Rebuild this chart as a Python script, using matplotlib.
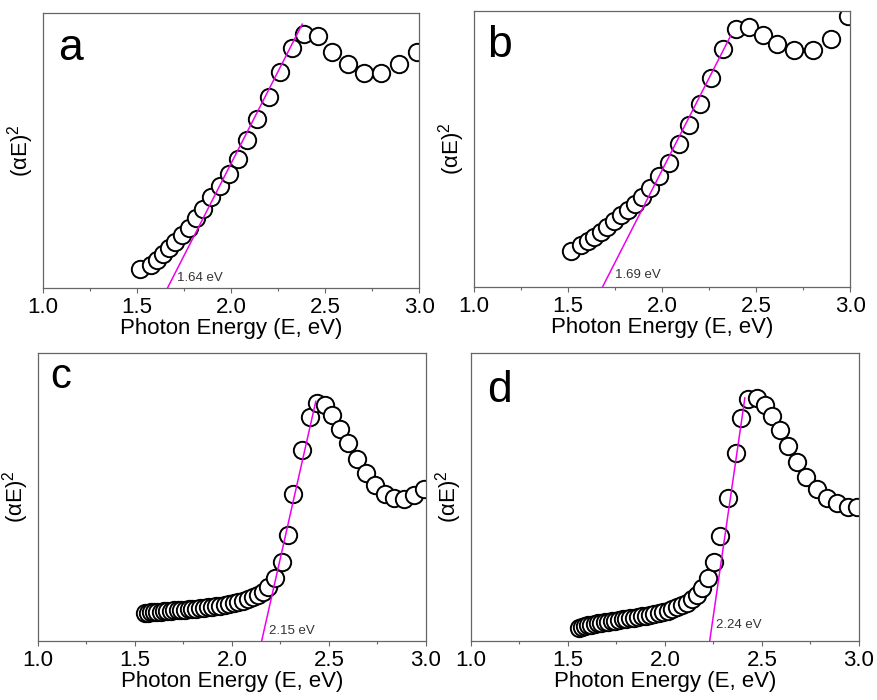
import numpy as np
from matplotlib import pyplot as plt
from matplotlib.ticker import MultipleLocator

plt.rcParams['font.family'] = ['Liberation Sans', 'DejaVu Sans']
plt.rcParams['mathtext.fontset'] = 'custom'
plt.rcParams['mathtext.rm'] = 'Liberation Sans'
plt.rcParams['mathtext.default'] = 'regular'

# (aE)^2 data, arbitrary units (0-1)
a_energy = [1.518, 1.576, 1.606, 1.638, 1.670, 1.704, 1.738, 1.777, 1.816, 1.851,
            1.892, 1.940, 1.989, 2.035, 2.087, 2.140, 2.202, 2.262, 2.324, 2.388,
            2.463, 2.537, 2.622, 2.706, 2.796, 2.894, 2.986]
a_signal = [0.069, 0.085, 0.103, 0.125, 0.145, 0.168, 0.191, 0.218, 0.253, 0.288,
            0.329, 0.371, 0.415, 0.470, 0.537, 0.613, 0.695, 0.786, 0.873, 0.925,
            0.915, 0.856, 0.813, 0.782, 0.782, 0.814, 0.859]

b_energy = [1.514, 1.571, 1.606, 1.638, 1.674, 1.709, 1.745, 1.780, 1.819, 1.856,
            1.895, 1.936, 1.984, 2.034, 2.090, 2.144, 2.202, 2.262, 2.324, 2.392,
            2.463, 2.534, 2.613, 2.702, 2.800, 2.897, 2.986]
b_signal = [0.130, 0.151, 0.167, 0.181, 0.198, 0.217, 0.238, 0.260, 0.278, 0.302,
            0.326, 0.359, 0.401, 0.450, 0.517, 0.587, 0.662, 0.757, 0.862, 0.935,
            0.942, 0.914, 0.882, 0.860, 0.860, 0.900, 0.981]

c_energy = [1.552, 1.567, 1.583, 1.599, 1.615, 1.632, 1.649, 1.666, 1.684, 1.702,
            1.720, 1.738, 1.757, 1.776, 1.795, 1.815, 1.835, 1.855, 1.876, 1.897,
            1.918, 1.940, 1.962, 1.985, 2.008, 2.033, 2.058, 2.084, 2.110, 2.136,
            2.162, 2.187, 2.222, 2.256, 2.290, 2.316, 2.359, 2.402, 2.436, 2.479,
            2.514, 2.557, 2.600, 2.643, 2.689, 2.737, 2.789, 2.837, 2.888, 2.940,
            2.990]
c_signal = [0.097, 0.098, 0.099, 0.100, 0.101, 0.102, 0.103, 0.104, 0.105, 0.106,
            0.107, 0.108, 0.109, 0.110, 0.111, 0.112, 0.114, 0.115, 0.117, 0.119,
            0.121, 0.123, 0.126, 0.129, 0.132, 0.135, 0.139, 0.145, 0.152, 0.160,
            0.171, 0.189, 0.219, 0.275, 0.368, 0.510, 0.663, 0.779, 0.825, 0.819,
            0.785, 0.735, 0.686, 0.632, 0.582, 0.542, 0.510, 0.495, 0.492, 0.507,
            0.528]

d_energy = [1.555, 1.571, 1.587, 1.603, 1.620, 1.637, 1.654, 1.671, 1.689, 1.707,
            1.725, 1.744, 1.763, 1.782, 1.801, 1.821, 1.841, 1.861, 1.882, 1.903,
            1.924, 1.946, 1.968, 1.991, 2.014, 2.037, 2.060, 2.086, 2.112, 2.138,
            2.163, 2.189, 2.223, 2.254, 2.284, 2.323, 2.364, 2.390, 2.430, 2.476,
            2.515, 2.550, 2.593, 2.632, 2.679, 2.727, 2.782, 2.833, 2.885, 2.942,
            2.991]
d_signal = [0.045, 0.050, 0.053, 0.055, 0.057, 0.059, 0.061, 0.063, 0.065, 0.067,
            0.069, 0.071, 0.073, 0.075, 0.077, 0.079, 0.081, 0.083, 0.086, 0.088,
            0.091, 0.094, 0.097, 0.101, 0.105, 0.110, 0.117, 0.125, 0.133, 0.145,
            0.160, 0.183, 0.218, 0.275, 0.365, 0.496, 0.652, 0.776, 0.840, 0.844,
            0.820, 0.782, 0.733, 0.678, 0.620, 0.571, 0.528, 0.496, 0.479, 0.467,
            0.467]

# linear fits (Tauc extrapolation)
fit_x = {'a': [1.662, 2.378], 'b': [1.683, 2.365], 'c': [2.153, 2.432], 'd': [2.229, 2.412]}
fit_y = {'a': [0.0, 0.959], 'b': [0.0, 0.912], 'c': [0.0, 0.832], 'd': [-0.008, 0.844]}
gap_text = {'a': '1.64 eV', 'b': '1.69 eV', 'c': '2.15 eV', 'd': '2.24 eV'}
gap_pos = {'a': (1.713, 0.038), 'b': (1.750, 0.045), 'c': (2.190, 0.035), 'd': (2.263, 0.056)}


def draw_panel(ax, name, energy, signal, letter_pos, letter_size=32):
    ax.plot(fit_x[name], fit_y[name], color='#ee00ee', lw=1.1, zorder=3)
    ax.plot(energy, signal, 'o', ms=12.5, mfc='white', mec='black', mew=1.4, zorder=2)
    ax.text(gap_pos[name][0], gap_pos[name][1], gap_text[name], fontsize=9.5,
            color='#333333', ha='left', va='center')
    ax.text(letter_pos[0], letter_pos[1], name, transform=ax.transAxes,
            fontsize=letter_size, ha='left', va='baseline')
    ax.set_xlim(1.0, 3.0)
    ax.set_ylim(0, 1)
    ax.xaxis.set_major_locator(MultipleLocator(0.5))
    ax.xaxis.set_minor_locator(MultipleLocator(0.25))
    ax.set_yticks([])
    ax.tick_params(axis='x', which='major', direction='out', length=3.6, width=0.8,
                   color='#666666', labelsize=16, pad=3)
    ax.tick_params(axis='x', which='minor', direction='out', length=2.2, width=0.8,
                   color='#666666')
    for sp in ax.spines.values():
        sp.set_color('#666666')
        sp.set_linewidth(0.9)
    ax.set_xlabel('Photon Energy (E, eV)', fontsize=16, labelpad=0)
    ax.set_ylabel(r'($\alpha$E)$^2$', fontsize=16)
    ax.yaxis.set_label_coords(-0.018, 0.5)


fig = plt.figure(figsize=(8.77, 7.0), dpi=100)
ax_a = fig.add_axes([0.049, 0.5886, 0.429, 0.393])
ax_b = fig.add_axes([0.5405, 0.590, 0.429, 0.394])
ax_c = fig.add_axes([0.0433, 0.0843, 0.4424, 0.4114])
ax_d = fig.add_axes([0.537, 0.0843, 0.4424, 0.4114])

draw_panel(ax_a, 'a', a_energy, a_signal, (0.040, 0.83))
draw_panel(ax_b, 'b', b_energy, b_signal, (0.035, 0.833))
draw_panel(ax_c, 'c', c_energy, c_signal, (0.031, 0.878), letter_size=30)
draw_panel(ax_d, 'd', d_energy, d_signal, (0.041, 0.83))

fig.savefig('out.png', dpi=100)
